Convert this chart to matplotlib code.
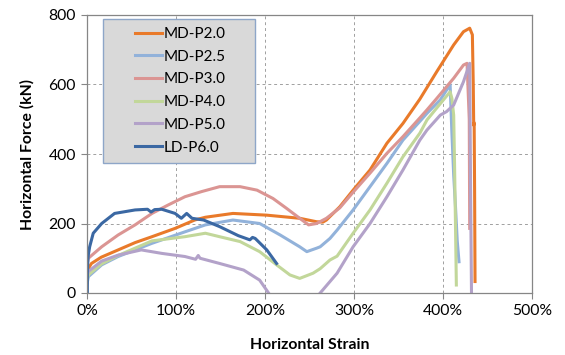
import numpy as np
import matplotlib
matplotlib.use("Agg")
import matplotlib.pyplot as plt
from matplotlib.ticker import FuncFormatter
from matplotlib.patches import Rectangle

# strain in %, force in kN
labels = ["MD-P2.0", "MD-P2.5", "MD-P3.0", "MD-P4.0", "MD-P5.0", "LD-P6.0"]
colors = ["#E97A2A", "#92B2DA", "#DB9593", "#C2D79A", "#B3A2C9", "#3B68A3"]

strain_p20 = [0.3, 5, 16, 35, 54, 73, 99, 121, 133, 164, 202, 239, 258, 265, 269,
              284, 299, 318, 337, 355, 374, 393, 412, 423, 430, 433, 434, 434.5,
              435, 435.5, 436]
force_p20 = [65, 85, 103, 124, 145, 162, 186, 210, 218, 229, 224, 215, 205, 204, 210,
             248, 296, 354, 431, 488, 558, 637, 714, 752, 762, 743, 600, 483,
             490, 300, 33]

strain_p25 = [0.3, 1.5, 16.5, 35, 73, 110, 133, 164, 194, 217, 239, 247, 258, 262,
              273, 281, 299, 318, 337, 355, 374, 382, 397, 408, 410, 412, 414, 416, 418]
force_p25 = [30, 47, 81, 105, 143, 176, 196, 210, 200, 167, 133, 119, 129, 133,
             157, 181, 239, 306, 373, 440, 494, 517, 556, 600, 460, 340, 250, 150, 90]

strain_p30 = [0.3, 1.5, 16.5, 35, 54, 73, 91, 110, 129, 149, 172, 191, 209, 224, 239,
              249, 258, 269, 284, 299, 318, 337, 355, 374, 382, 393, 412, 423, 427,
              429.5, 430]
force_p30 = [85, 100, 133, 167, 196, 229, 253, 277, 292, 306, 306, 296, 272, 244, 215,
             196, 200, 215, 245, 290, 345, 402, 450, 504, 527, 560, 618, 656, 661,
             500, 186]

strain_p40 = [0.3, 1.5, 16.5, 35, 73, 110, 133, 149, 172, 194, 213, 228, 239, 254,
              262, 273, 281, 299, 318, 337, 355, 374, 382, 397, 408, 410, 412, 413,
              414, 415]
force_p40 = [40, 52, 84, 108, 150, 162, 172, 162, 148, 119, 81, 52, 42, 57,
             70, 95, 106, 172, 239, 316, 392, 460, 498, 545, 579, 560, 512, 368,
             200, 23]

strain_p50 = [0.3, 1.5, 16.5, 35, 61, 84, 110, 122, 125, 127, 149, 176, 194, 204,
              np.nan, 262, 273, 281, 299, 318, 337, 355, 374, 382, 397, 404, 412,
              423, 430, 431, 432]
force_p50 = [50, 62, 92, 109, 124, 114, 105, 97, 108, 100, 85, 66, 37, 0,
             np.nan, 0, 33, 57, 133, 200, 277, 354, 440, 469, 512, 522, 541,
             608, 661, 300, 4]

strain_p60 = [0.4, 0.5, 1.0, 1.5, 3, 7, 16.5, 31, 54, 68, 72, 76, 84, 99, 106, 112,
              118, 131, 149, 170, 183, 186, 189, 202, 213]
force_p60 = [0, 60, 95, 110, 133, 172, 200, 229, 239, 241, 233, 240, 241, 229, 215, 229,
             215, 210, 191, 165, 153, 160, 157, 124, 85]

series = [
    (strain_p20, force_p20),
    (strain_p25, force_p25),
    (strain_p30, force_p30),
    (strain_p40, force_p40),
    (strain_p50, force_p50),
    (strain_p60, force_p60),
]

plt.rcParams["font.family"] = ["Lato", "DejaVu Sans"]

fig = plt.figure(figsize=(5.65, 3.55), dpi=100)
ax = fig.add_axes([87 / 565, 1 - 293 / 355, 445 / 565, 278 / 355])

for (xs, ys), lab, col in zip(series, labels, colors):
    ax.plot(xs, ys, color=col, lw=2.2, label=lab, solid_joinstyle="round")

ax.set_xlim(0, 500)
ax.set_ylim(0, 800)
ax.set_xticks([0, 100, 200, 300, 400, 500])
ax.set_yticks([0, 200, 400, 600, 800])
ax.xaxis.set_major_formatter(FuncFormatter(lambda v, p: f"{v:.0f}%"))

ax.grid(True, ls=(0, (3, 3)), color="#a0a0a0", lw=0.7)
ax.set_axisbelow(True)
for s in ax.spines.values():
    s.set_color("#868686")
    s.set_linewidth(0.9)
ax.tick_params(axis="both", direction="out", length=4, color="#868686",
               labelsize=11.3, pad=4)

ax.set_xlabel("Horizontal Strain", fontsize=11.3, fontweight="bold", labelpad=14)
ax.set_ylabel("Horizontal Force (kN)", fontsize=11.3, fontweight="bold", labelpad=10)

# legend box (grey panel) drawn separately so the entries sit inset like the original
box = Rectangle((16 / 445, 130 / 278), 152 / 445, 144 / 278, transform=ax.transAxes,
                facecolor="#d9d9d9", edgecolor="#8ea6c8", lw=1.0, zorder=5,
                clip_on=False)
ax.add_patch(box)

leg = ax.legend(loc="upper left", bbox_to_anchor=(48 / 445, (293 - 27) / 278),
                fontsize=11, frameon=False, handlelength=1.75,
                handletextpad=0.15, labelspacing=0.57, borderpad=0,
                borderaxespad=0)
leg.set_zorder(6)

fig.savefig("out.png", dpi=100)
